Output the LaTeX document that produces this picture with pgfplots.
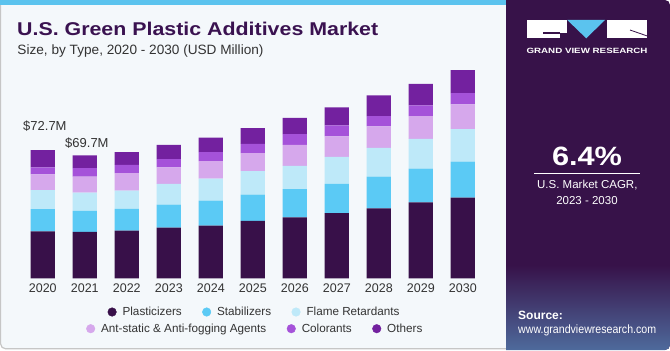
\documentclass[border=0pt]{standalone}
\usepackage{pgfplots}
\pgfplotsset{compat=1.18}
\usepackage{fontspec}
\setmainfont{Liberation Sans}
\definecolor{cPlast}{HTML}{381049}
\definecolor{cStab}{HTML}{5BCAF5}
\definecolor{cFlame}{HTML}{BEE9F9}
\definecolor{cAnti}{HTML}{D6A8EC}
\definecolor{cCol}{HTML}{A552D9}
\definecolor{cOth}{HTML}{73219F}
\definecolor{panel}{HTML}{371249}
\definecolor{panelb}{HTML}{4E6A9C}
\definecolor{bgl}{HTML}{F4F8FB}
\definecolor{titlec}{HTML}{3A1250}
\definecolor{txt}{HTML}{333333}
\definecolor{strip}{HTML}{5BC3EE}
\begin{document}
\begin{tikzpicture}[x=1bp,y=1bp]
\useasboundingbox (0,0) rectangle (670,350);
\fill[white] (0,0) rectangle (670,350);
\filldraw[fill=bgl, draw=gray!45, line width=1.2bp, rounded corners=5bp] (0.6,1.2) rectangle (530,352);
\fill[strip] (0,345) rectangle (515,350);
\begin{scope}
\clip[rounded corners=5bp] (480,0) rectangle (670,350);
\fill[panel] (506,0) rectangle (670,350);
\shade[top color=panel, bottom color=panelb] (506,0) rectangle (670,85);
\end{scope}
% logo
\fill[white] (526.7,311.7) rectangle (566.7,330);
\fill[panel] (543,316.5) rectangle (560,318);
\fill[panel] (559.5,311.7) rectangle (566.7,317);
\fill[strip] (567.3,330) -- (605,330) -- (586.2,311.7) -- cycle;
\fill[white] (606.7,311.7) rectangle (647.3,330);
\draw[panel, line width=0.8bp] (630,320) -- (647.3,314);
\node[text=white, inner sep=0, anchor=center] at (587,299.3) {\resizebox{121bp}{\height}{\fontsize{7.6bp}{8bp}\selectfont\bfseries GRAND VIEW RESEARCH}};
% CAGR
\node[text=white, inner sep=0, anchor=center] at (587,193.8) {\resizebox{70bp}{\height}{\fontsize{26.5bp}{28bp}\selectfont\bfseries 6.4\%}};
\draw[white, line width=1bp] (534,176.7) -- (640,176.7);
\node[text=white, inner sep=0, anchor=center, font=\fontsize{11.5bp}{13bp}\selectfont] at (587.3,165) {U.S. Market CAGR,};
\node[text=white, inner sep=0, anchor=center, font=\fontsize{11.5bp}{13bp}\selectfont] at (587,149) {2023 - 2030};
\node[text=white, inner sep=0, anchor=west, font=\fontsize{12bp}{13bp}\selectfont\bfseries] at (518,34.3) {Source:};
\node[text=white, inner sep=0, anchor=west] at (518,20) {\resizebox{138bp}{\height}{\fontsize{12bp}{13bp}\selectfont www.grandviewresearch.com}};
% titles
\node[anchor=base west, inner sep=0, text=titlec] at (17,315) {\resizebox{361bp}{\height}{\fontsize{18.5bp}{20bp}\selectfont\bfseries U.S. Green Plastic Additives Market}};
\node[anchor=base west, inner sep=0, text=txt] at (17.3,295.9) {\resizebox{246bp}{\height}{\fontsize{13.5bp}{15bp}\selectfont Size, by Type, 2020 - 2030 (USD Million)}};
% chart
\begin{axis}[at={(0.8bp,71.7bp)}, anchor=south west, scale only axis,
  width=504bp, height=229.3bp, xmin=-1, xmax=11, ymin=0, ymax=130,
  ybar stacked, bar width=24.3bp, clip=false,
  axis line style={draw=none}, ytick=\empty,
  xtick={0,...,10}, xticklabels={2020,2021,2022,2023,2024,2025,2026,2027,2028,2029,2030},
  major tick length=0pt,
  xticklabel style={anchor=center, inner sep=0pt, yshift=-9.4bp, text=txt, font=\fontsize{12.5bp}{14bp}\selectfont},
  legend columns=-1,
  legend style={at={(0.2115,-0.147)}, anchor=west, draw=none, fill=none, inner sep=0pt,
    nodes={inner sep=0pt, text=txt}, font=\fontsize{11.7bp}{13bp}\selectfont,
    /tikz/every odd column/.style={column sep=6bp},
    /tikz/every even column/.style={column sep=20.4bp}},
]
\addlegendimage{legend image code/.code={\fill[cPlast] (0bp,0bp) circle (4.3bp);}}
\addlegendimage{legend image code/.code={\fill[cStab] (0bp,0bp) circle (4.3bp);}}
\addlegendimage{legend image code/.code={\fill[cFlame] (0bp,0bp) circle (4.3bp);}}
\addplot[fill=cPlast, draw=none, forget plot] coordinates {(0,26.6) (1,26.3) (2,27.0) (3,28.7) (4,29.8) (5,32.5) (6,34.6) (7,36.9) (8,39.7) (9,43.1) (10,45.7)};
\addplot[fill=cStab, draw=none, forget plot] coordinates {(0,12.6) (1,11.9) (2,12.3) (3,13.0) (4,14.2) (5,14.9) (6,15.9) (7,16.6) (8,17.9) (9,19.1) (10,20.4)};
\addplot[fill=cFlame, draw=none, forget plot] coordinates {(0,10.8) (1,10.4) (2,10.4) (3,11.9) (4,12.5) (5,13.3) (6,13.2) (7,15.3) (8,16.3) (9,16.8) (10,18.5)};
\addplot[fill=cAnti, draw=none, forget plot] coordinates {(0,8.9) (1,9.0) (2,9.9) (3,9.3) (4,9.9) (5,10.2) (6,11.9) (7,11.7) (8,12.3) (9,13.0) (10,14.0)};
\addplot[fill=cCol, draw=none, forget plot] coordinates {(0,4.0) (1,4.8) (2,4.7) (3,4.7) (4,5.1) (5,5.3) (6,6.2) (7,6.2) (8,5.8) (9,6.1) (10,6.4)};
\addplot[fill=cOth, draw=none, forget plot] coordinates {(0,9.8) (1,7.3) (2,7.2) (3,8.1) (4,8.3) (5,8.9) (6,9.2) (7,10.2) (8,11.7) (9,12.1) (10,13.0)};
\legend{Plasticizers,Stabilizers,Flame Retardants}
\node[text=txt, font=\fontsize{13bp}{14bp}\selectfont, inner sep=0] at (axis cs:0.05,86.5) {\$72.7M};
\node[text=txt, font=\fontsize{13bp}{14bp}\selectfont, inner sep=0] at (axis cs:1.05,76.7) {\$69.7M};
\end{axis}
\begin{axis}[at={(0.8bp,71.7bp)}, anchor=south west, scale only axis,
  width=504bp, height=229.3bp, xmin=-1, xmax=11, ymin=0, ymax=130, hide axis,
  legend columns=-1,
  legend style={at={(0.169,-0.2198)}, anchor=west, draw=none, fill=none, inner sep=0pt,
    nodes={inner sep=0pt, text=txt}, font=\fontsize{11.7bp}{13bp}\selectfont,
    /tikz/every odd column/.style={column sep=6bp},
    /tikz/every even column/.style={column sep=20.4bp}},
]
\addlegendimage{legend image code/.code={\fill[cAnti] (0bp,0bp) circle (4.3bp);}}
\addlegendimage{legend image code/.code={\fill[cCol] (0bp,0bp) circle (4.3bp);}}
\addlegendimage{legend image code/.code={\fill[cOth] (0bp,0bp) circle (4.3bp);}}
\legend{Ant-static \& Anti-fogging Agents,Colorants,Others}
\end{axis}
\end{tikzpicture}
\end{document}
